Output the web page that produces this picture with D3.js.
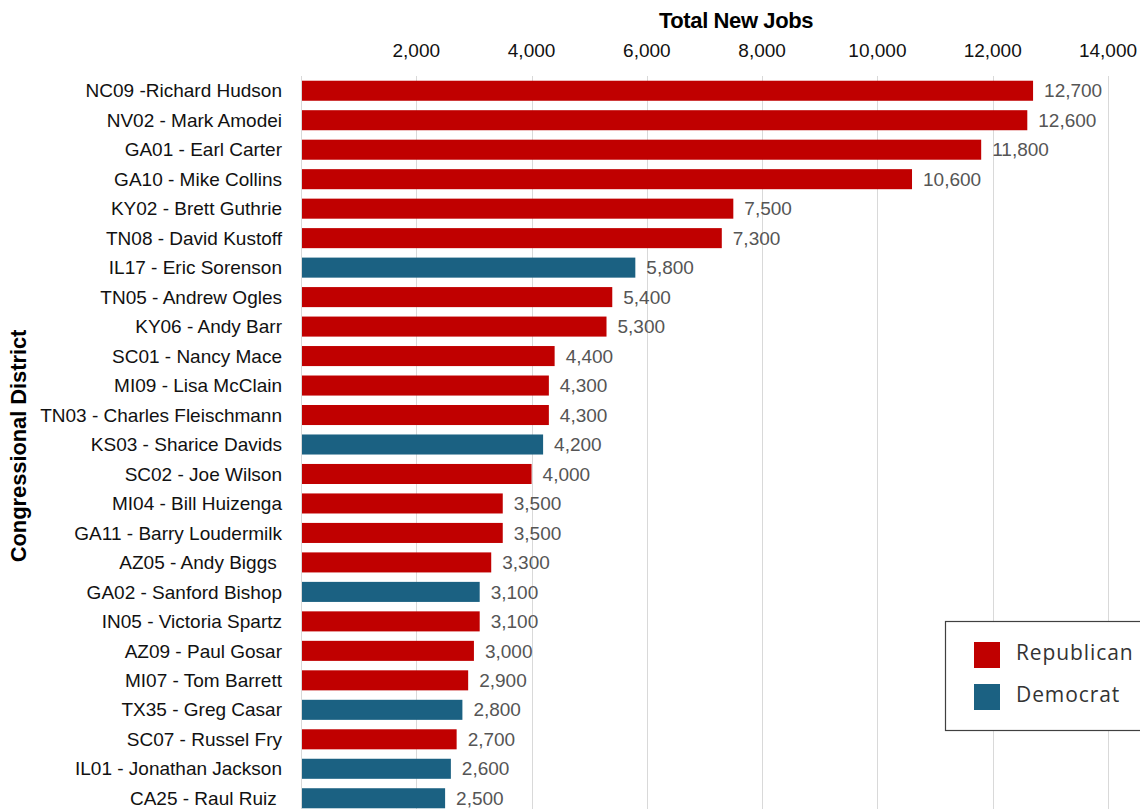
<!DOCTYPE html>
<html>
<head>
  <script src="https://d3js.org/d3.v7.min.js"></script>
  <title>Total New Jobs by Congressional District</title>
  <style>
    body { margin: 0; background: #fff; }
    svg { display: block; }
  </style>
</head>
<body>
  <div id='chart'></div>
  <script>
    // data
    var districts = ['NC09 -Richard Hudson', 'NV02 - Mark Amodei', 'GA01 - Earl Carter', 'GA10 - Mike Collins',
      'KY02 - Brett Guthrie', 'TN08 - David Kustoff', 'IL17 - Eric Sorenson', 'TN05 - Andrew Ogles',
      'KY06 - Andy Barr', 'SC01 - Nancy Mace', 'MI09 - Lisa McClain', 'TN03 - Charles Fleischmann',
      'KS03 - Sharice Davids', 'SC02 - Joe Wilson', 'MI04 - Bill Huizenga', 'GA11 - Barry Loudermilk',
      'AZ05 - Andy Biggs ', 'GA02 - Sanford Bishop', 'IN05 - Victoria Spartz', 'AZ09 - Paul Gosar',
      'MI07 - Tom Barrett', 'TX35 - Greg Casar', 'SC07 - Russel Fry', 'IL01 - Jonathan Jackson', 'CA25 - Raul Ruiz '];
    var jobs = [12700, 12600, 11800, 10600, 7500, 7300, 5800, 5400, 5300, 4400, 4300, 4300, 4200, 4000,
      3500, 3500, 3300, 3100, 3100, 3000, 2900, 2800, 2700, 2600, 2500];
    var party = ['R', 'R', 'R', 'R', 'R', 'R', 'D', 'R', 'R', 'R', 'R', 'R', 'D', 'R',
      'R', 'R', 'R', 'D', 'R', 'R', 'R', 'D', 'R', 'D', 'D'];
    var xTicks = [0, 2000, 4000, 6000, 8000, 10000, 12000, 14000];
    var legendNames = ['Republican', 'Democrat'];
    var legendKeys = ['R', 'D'];

    var width = 1140, height = 809;
    var colors = { R: '#c00000', D: '#1b6182' };
    var font = "'Liberation Sans', Arial, sans-serif";

    var svg = d3.select('#chart').append('svg').attr('width', width).attr('height', height);

    var x = d3.scaleLinear().domain([0, 14000]).range([301, 1108]);
    var y = d3.scaleBand().domain(districts).range([76, 813]).paddingInner(0.32).paddingOuter(0.16);

    // gridlines
    svg.append('g').selectAll('line')
      .data(xTicks)
      .enter().append('line')
      .attr('x1', function(d) { return Math.round(x(d)) + 0.5; })
      .attr('x2', function(d) { return Math.round(x(d)) + 0.5; })
      .attr('y1', 76).attr('y2', height)
      .attr('stroke', '#d9d9d9').attr('stroke-width', 1);

    // tick labels on top
    svg.append('g').selectAll('text')
      .data(xTicks.filter(function(d) { return d > 0; }))
      .enter().append('text')
      .attr('x', function(d) { return x(d); })
      .attr('y', 57)
      .attr('text-anchor', 'middle')
      .style('font-family', font)
      .style('font-size', '19px')
      .attr('fill', '#111')
      .text(d3.format(','));

    svg.append('text')
      .attr('x', 736).attr('y', 28)
      .attr('text-anchor', 'middle')
      .style('font-family', font)
      .style('font-size', '22px').style('font-weight', 'bold')
      .style('letter-spacing', '-0.4px')
      .attr('fill', '#000')
      .text('Total New Jobs');

    svg.append('text')
      .attr('transform', 'translate(26,446) rotate(-90)')
      .attr('text-anchor', 'middle')
      .style('font-family', font)
      .style('font-size', '22px').style('font-weight', 'bold')
      .style('letter-spacing', '-0.1px')
      .attr('fill', '#000')
      .text('Congressional District');

    // bars
    var rows = svg.append('g').selectAll('g')
      .data(districts)
      .enter().append('g');

    rows.append('rect')
      .attr('x', x(0) + 1)
      .attr('y', function(d) { return y(d); })
      .attr('width', function(d, i) { return x(jobs[i]) - x(0) - 1; })
      .attr('height', y.bandwidth())
      .attr('fill', function(d, i) { return colors[party[i]]; });

    rows.append('text')
      .attr('x', 282)
      .attr('y', function(d) { return y(d) + y.bandwidth() / 2; })
      .attr('dy', '0.35em')
      .attr('text-anchor', 'end')
      .style('font-family', font)
      .style('font-size', '19px')
      .style('white-space', 'pre')
      .attr('fill', '#111')
      .text(function(d) { return d; });

    rows.append('text')
      .attr('x', function(d, i) { return x(jobs[i]) + 11; })
      .attr('y', function(d) { return y(d) + y.bandwidth() / 2; })
      .attr('dy', '0.35em')
      .style('font-family', font)
      .style('font-size', '19px')
      .attr('fill', '#555')
      .text(function(d, i) { return d3.format(',')(jobs[i]); });

    // legend
    var legend = svg.append('g');
    legend.append('rect')
      .attr('x', 945.5).attr('y', 621.5)
      .attr('width', 210).attr('height', 109)
      .attr('fill', '#fff').attr('stroke', '#404040').attr('stroke-width', 1.2);

    var items = legend.selectAll('g.item')
      .data(legendKeys)
      .enter().append('g').attr('class', 'item')
      .attr('transform', function(d, i) { return 'translate(974,' + (642 + i * 42) + ')'; });
    items.append('rect')
      .attr('width', 26).attr('height', 26)
      .attr('fill', function(d) { return colors[d]; });
    items.append('text')
      .attr('x', 42).attr('y', 18)
      .style('font-family', "'Open Sans', 'Noto Sans', sans-serif")
      .style('font-size', '21px')
      .style('letter-spacing', '0.9px')
      .attr('fill', '#333')
      .text(function(d, i) { return legendNames[i]; });
  </script>
</body>
</html>
